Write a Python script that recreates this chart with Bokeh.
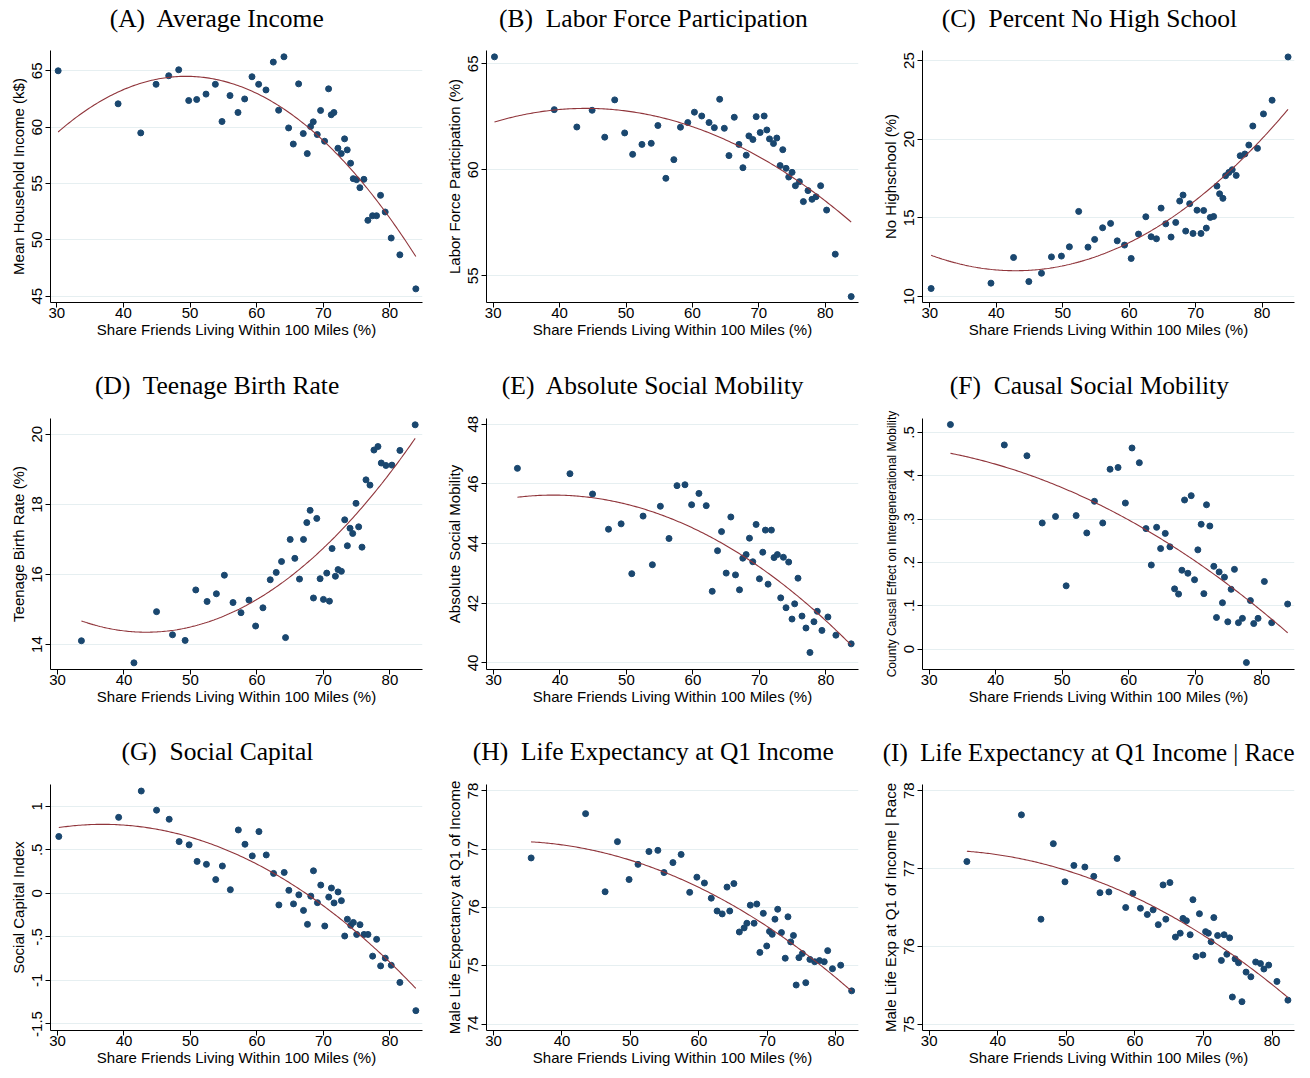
import numpy as np
from bokeh.plotting import figure
from bokeh.layouts import gridplot
from bokeh.models import Range1d, LinearAxis, FixedTicker
from bokeh.embed import file_html
from bokeh.resources import INLINE

# ---------------- data ----------------
x_ticks = [30, 40, 50, 60, 70, 80]
x_label = "Share Friends Living Within 100 Miles (%)"

share_abcg = [30.2, 39.2, 42.6, 44.9, 46.8, 48.3, 49.8, 51.0, 52.4, 53.8,
              54.8, 56.0, 57.2, 58.2, 59.3, 60.3, 61.4, 62.5, 63.3, 64.1,
              64.8, 65.5, 66.3, 67.0, 67.6, 68.1, 68.5, 69.1, 69.6, 70.2,
              70.8, 71.2, 71.6, 72.2, 72.7, 73.2, 73.6, 74.1, 74.5, 75.0,
              75.5, 76.1, 76.7, 77.4, 78.0, 78.6, 79.3, 80.2, 81.5, 83.9]

income = [65.0, 62.07, 59.49, 63.8, 64.56, 65.09, 62.36, 62.45, 62.93, 63.8,
          60.5, 62.8, 61.3, 62.5, 64.47, 63.8, 63.3, 65.77, 61.5, 66.24,
          59.93, 58.5, 63.84, 59.43, 57.65, 60.05, 60.47, 59.34, 61.48, 58.75,
          63.4, 61.1, 61.3, 58.13, 57.65, 58.96, 57.98, 56.8, 55.43, 55.34,
          54.63, 55.37, 51.73, 52.14, 52.14, 53.95, 52.47, 50.16, 48.67, 45.65]

labor = [65.33, 62.84, 62.02, 62.81, 61.54, 63.30, 61.74, 60.73, 61.20, 61.25,
         62.09, 59.60, 60.48, 62.01, 62.23, 62.72, 62.54, 62.23, 61.99, 63.33,
         61.96, 60.67, 62.48, 61.20, 60.10, 60.69, 61.60, 61.43, 62.51, 61.76,
         62.54, 61.88, 61.46, 61.24, 61.50, 60.20, 60.95, 60.07, 59.66, 59.88,
         59.25, 59.44, 58.50, 59.02, 58.61, 58.73, 59.25, 58.10, 56.02, 54.02]

no_high_school = [10.51, 10.85, 12.48, 10.95, 11.48, 12.52, 12.57, 13.16, 15.41, 13.14,
                  13.63, 14.37, 14.65, 13.54, 13.27, 12.42, 13.97, 15.07, 13.80, 13.67,
                  15.62, 14.62, 13.78, 14.71, 16.07, 16.45, 14.16, 15.90, 14.01, 15.49,
                  14.01, 15.47, 14.35, 15.03, 15.09, 17.02, 16.53, 16.24, 17.68, 17.89,
                  18.06, 17.70, 18.95, 19.06, 19.63, 20.84, 19.42, 21.61, 22.48, 25.23]

social_capital = [0.653, 0.873, 1.175, 0.955, 0.851, 0.594, 0.557, 0.367, 0.333, 0.158,
                  0.314, 0.042, 0.728, 0.564, 0.430, 0.709, 0.441, 0.229, -0.133, 0.240,
                  0.035, -0.121, -0.017, -0.196, -0.356, -0.032, 0.259, -0.107, 0.095, -0.375,
                  -0.043, 0.061, -0.110, 0.016, -0.084, -0.490, -0.297, -0.367, -0.334, -0.472,
                  -0.360, -0.472, -0.472, -0.721, -0.528, -0.833, -0.744, -0.826, -1.023, -1.347]

share_de = [33.6, 41.5, 44.9, 47.3, 49.2, 50.8, 52.5, 53.9, 55.1, 56.4,
            57.6, 58.8, 59.8, 60.9, 62.0, 62.9, 63.7, 64.3, 65.0, 65.7,
            66.4, 67.0, 67.5, 68.0, 68.5, 69.0, 69.5, 70.0, 70.5, 70.9,
            71.3, 71.8, 72.2, 72.7, 73.2, 73.6, 74.0, 74.4, 74.9, 75.3,
            75.8, 76.4, 77.0, 77.6, 78.2, 78.7, 79.4, 80.3, 81.5, 83.8]

teen_birth = [14.11, 13.48, 14.94, 14.28, 14.12, 15.56, 15.23, 15.45, 15.98, 15.20,
              14.91, 15.27, 14.53, 15.05, 15.85, 16.06, 16.37, 14.20, 17.00, 16.46,
              15.87, 17.00, 17.48, 17.83, 15.33, 17.60, 15.88, 15.29, 16.04, 15.24,
              16.74, 15.95, 16.14, 16.09, 17.56, 16.82, 17.32, 17.17, 18.03, 17.36,
              16.78, 18.70, 18.55, 19.55, 19.65, 19.18, 19.11, 19.12, 19.54, 20.27]

abs_mobility = [46.52, 46.34, 45.66, 44.48, 44.66, 42.99, 44.92, 43.29, 45.25, 44.17,
                45.94, 45.97, 45.30, 45.68, 45.27, 42.40, 43.76, 44.40, 43.01, 44.89,
                42.95, 42.45, 43.51, 43.63, 44.18, 43.39, 44.64, 42.82, 43.71, 44.45,
                42.64, 44.45, 43.53, 43.63, 42.18, 43.54, 41.85, 43.38, 41.47, 41.98,
                42.84, 41.57, 41.17, 40.35, 41.38, 41.73, 41.09, 41.54, 40.93, 40.64]

share_f = [33.2, 41.3, 44.7, 47.0, 49.0, 50.6, 52.1, 53.7, 54.85, 56.1,
           57.2, 58.4, 59.5, 60.5, 61.6, 62.6, 63.4, 64.2, 64.8, 65.5,
           66.2, 66.9, 67.5, 68.0, 68.4, 68.9, 69.4, 69.9, 70.4, 70.9,
           71.3, 71.7, 72.2, 72.8, 73.2, 73.6, 74.1, 74.4, 74.9, 75.4,
           75.9, 76.5, 77.1, 77.7, 78.3, 78.8, 79.45, 80.4, 81.5, 83.9]

causal_mobility = [0.518, 0.471, 0.446, 0.291, 0.306, 0.146, 0.308, 0.268, 0.341, 0.291,
                   0.415, 0.419, 0.337, 0.464, 0.430, 0.278, 0.194, 0.281, 0.232, 0.267,
                   0.236, 0.139, 0.127, 0.182, 0.344, 0.175, 0.354, 0.160, 0.229, 0.288,
                   0.128, 0.333, 0.284, 0.191, 0.073, 0.178, 0.107, 0.166, 0.063, 0.138,
                   0.184, 0.061, 0.071, -0.031, 0.112, 0.059, 0.071, 0.156, 0.061, 0.104]

share_hi = [35.5, 43.45, 46.3, 48.1, 49.8, 51.1, 52.7, 54.0, 54.9, 56.2,
            57.4, 58.65, 59.7, 60.8, 61.8, 62.65, 63.4, 64.1, 64.5, 65.1,
            65.9, 66.6, 67.0, 67.5, 68.05, 68.45, 68.9, 69.4, 69.9, 70.3,
            70.7, 71.1, 71.5, 72.05, 72.6, 73.0, 73.4, 73.8, 74.2, 74.6,
            75.1, 75.6, 76.2, 76.9, 77.6, 78.3, 78.8, 79.5, 80.7, 82.3]

life_exp_q1 = [76.85, 77.61, 76.27, 77.13, 76.48, 76.74, 76.96, 76.98, 76.60, 76.77,
               76.91, 76.26, 76.52, 76.42, 76.16, 75.94, 75.89, 76.35, 75.94, 76.41,
               75.58, 75.65, 75.73, 76.04, 75.73, 76.06, 75.23, 75.90, 75.34, 75.59,
               75.54, 75.80, 75.97, 75.57, 75.13, 75.84, 75.41, 75.52, 74.67, 75.14,
               75.21, 74.71, 75.11, 75.07, 75.09, 75.07, 75.26, 74.95, 75.01, 74.57]

life_exp_q1_race = [77.09, 77.69, 76.35, 77.32, 76.83, 77.04, 77.02, 76.90, 76.69, 76.70,
                    77.13, 76.50, 76.68, 76.49, 76.41, 76.47, 76.28, 76.79, 76.35, 76.82,
                    76.12, 76.17, 76.36, 76.33, 76.15, 76.60, 75.87, 76.42, 75.89, 76.19,
                    76.17, 76.06, 76.37, 76.14, 75.82, 76.15, 75.90, 76.11, 75.35, 75.84,
                    75.79, 75.29, 75.67, 75.61, 75.80, 75.78, 75.71, 75.76, 75.55, 75.31]

# ---------------- styling ----------------
NAVY = "#1a476f"
MAROON = "#90353b"
GRID = "#e6eff1"
SANS = "Liberation Sans"
SERIF = "Liberation Serif"
NB = "\u00a0"
PAD = NB * 6   # trailing pad: moves the centred title left, over the whole panel

# row geometry: (figure height, top border, bottom border)
ROWS = [(367, 50, 65), (366, 51, 64), (344, 51, 47)]
LEFT, RIGHT, WIDTH = 50, 14, 436


def panel(row, title, ylabel, xs, ys, xr, yr, yticks, ylabels, ylabel_size="15px",
          title_align="center", title_size="25.5px"):
    h, top, bottom = ROWS[row]
    p = figure(width=WIDTH, height=h, output_backend="svg", toolbar_location=None,
               x_range=Range1d(*xr), y_range=Range1d(*yr),
               min_border_left=LEFT, min_border_right=RIGHT,
               min_border_top=top, min_border_bottom=bottom)
    p.background_fill_color = "white"
    p.border_fill_color = "white"
    p.outline_line_color = None

    p.title.text = title + (PAD if title_align == "center" else "")
    p.title.align = title_align
    p.title.vertical_align = "top"
    p.title.standoff = 2
    p.title.text_font = SERIF
    p.title.text_font_size = title_size
    p.title.text_font_style = "normal"
    p.title.text_color = "black"

    xax = p.below[0]
    yax = p.left[0]
    xax.ticker = x_ticks
    yax.ticker = yticks
    yax.major_label_overrides = {t: l for t, l in zip(yticks, ylabels)}
    yax.major_label_orientation = "vertical"
    xax.axis_label = x_label
    yax.axis_label = ylabel

    for ax in (xax, yax):
        ax.axis_line_color = "black"
        ax.axis_line_width = 1
        ax.major_tick_line_color = "black"
        ax.major_tick_out = 5
        ax.major_tick_in = 0
        ax.minor_tick_line_color = None
        ax.major_label_text_font = SANS
        ax.major_label_text_font_size = "15px"
        ax.major_label_text_color = "black"
        ax.axis_label_text_font = SANS
        ax.axis_label_text_font_style = "normal"
        ax.axis_label_text_color = "black"
        ax.axis_label_text_font_size = "15px"
    yax.axis_label_text_font_size = ylabel_size
    xax.major_label_standoff = 0
    xax.axis_label_standoff = 0
    yax.major_label_standoff = 3
    yax.axis_label_standoff = 3

    p.xgrid.visible = False
    p.ygrid.grid_line_color = GRID
    p.ygrid.grid_line_width = 1

    p.scatter(xs, ys, size=6, fill_color=NAVY, line_color=NAVY)
    coef = np.polyfit(xs, ys, 2)
    fx = np.linspace(min(xs), max(xs), 200)
    p.line(fx, np.polyval(coef, fx), line_color=MAROON, line_width=1.1)

    # invisible axis above the frame: keeps the title well above the plot
    mid = 0.5 * (xr[0] + xr[1])
    spacer = LinearAxis(ticker=FixedTicker(ticks=[mid]), axis_line_color=None,
                        major_tick_line_color=None, minor_tick_line_color=None,
                        major_tick_out=top - 35, major_tick_in=0,
                        major_label_standoff=0, major_label_text_font_size="1px",
                        major_label_text_alpha=0,
                        major_label_overrides={mid: ""})
    p.add_layout(spacer, "above")
    return p


pA = panel(0, "(A)" + NB + " Average Income", "Mean Household Income (k$)", share_abcg, income,
           (29.05, 84.9), (44.44, 66.8), [45, 50, 55, 60, 65], ["45", "50", "55", "60", "65"])
pB = panel(0, "(B)" + NB + " Labor Force Participation", "Labor Force Participation (%)",
           share_abcg, labor, (29.0, 85.0), (53.74, 65.63), [55, 60, 65], ["55", "60", "65"])
pC = panel(0, "(C)" + NB + " Percent No High School", "No Highschool (%)", share_abcg,
           no_high_school, (28.9, 84.87), (9.62, 25.64), [10, 15, 20, 25],
           ["10", "15", "20", "25"])
pD = panel(1, "(D)" + NB + " Teenage Birth Rate", "Teenage Birth Rate (%)", share_de, teen_birth,
           (28.95, 84.9), (13.29, 20.45), [14, 16, 18, 20], ["14", "16", "18", "20"])
pE = panel(1, "(E)" + NB + " Absolute Social Mobility", "Absolute Social Mobility", share_de,
           abs_mobility, (28.95, 84.9), (39.78, 48.19), [40, 42, 44, 46, 48],
           ["40", "42", "44", "46", "48"])
pF = panel(1, "(F)" + NB + " Causal Social Mobility",
           "County Causal Effect on Intergenerational Mobility",
           share_f, causal_mobility, (29.0, 84.93), (-0.047, 0.532),
           [0, 0.1, 0.2, 0.3, 0.4, 0.5], ["0", ".1", ".2", ".3", ".4", ".5"], ylabel_size="12px")
pG = panel(2, "(G)" + NB + " Social Capital", "Social Capital Index", share_abcg, social_capital,
           (28.95, 84.9), (-1.575, 1.25), [-1.5, -1, -0.5, 0, 0.5, 1],
           ["-1.5", "-1", "-.5", "0", ".5", "1"])
pH = panel(2, "(H)" + NB + " Life Expectancy at Q1 Income", "Male Life Expectancy at Q1 of Income",
           share_hi, life_exp_q1, (28.98, 83.3), (73.89, 78.11),
           [74, 75, 76, 77, 78], ["74", "75", "76", "77", "78"])
pI = panel(2, "(I)" + NB + " Life Expectancy at Q1 Income | Race",
           "Male Life Exp at Q1 of Income | Race",
           share_hi, life_exp_q1_race, (29.03, 83.26), (74.92, 78.08),
           [75, 76, 77, 78], ["75", "76", "77", "78"],
           title_align="right", title_size="25px")

grid = gridplot([[pA, pB, pC], [pD, pE, pF], [pG, pH, pI]], toolbar_location=None)

open("out.html", "w").write(file_html(grid, INLINE))
